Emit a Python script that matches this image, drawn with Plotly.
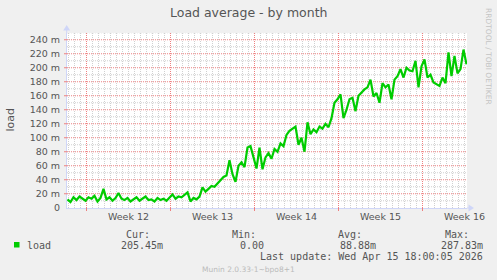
import plotly.graph_objects as go
from datetime import datetime, timedelta

# ---------------- data ----------------
series_name = "load"
start_time = datetime(2026, 3, 14, 10, 0)
step_hours = 6
load_milli = [
    12, 8, 15, 11, 16, 13, 10, 15, 13, 17,
    9, 14, 27, 12, 15, 10, 14, 21, 13, 11,
    14, 9, 12, 15, 10, 13, 16, 11, 12, 9,
    14, 11, 13, 10, 15, 19, 13, 16, 15, 18,
    22, 9, 14, 12, 16, 29, 23, 27, 31, 30,
    35, 40, 44, 46, 68, 48, 37, 60, 65, 58,
    86, 88, 70, 56, 86, 55, 72, 78, 70, 84,
    80, 92, 88, 104, 110, 113, 116, 90, 100, 80,
    122, 105, 112, 108, 116, 113, 120, 115, 128, 150,
    155, 162, 128, 140, 155, 157, 138, 160, 165, 169,
    172, 183, 159, 164, 150, 178, 172, 176, 155, 183,
    188, 198, 186, 200, 196, 195, 210, 172, 202, 212,
    186, 190, 179, 176, 174, 186, 178, 222, 188, 217,
    192, 198, 226, 205,
]
times = [start_time + timedelta(hours=step_hours * i) for i in range(len(load_milli))]

x_range = [datetime(2026, 3, 14, 9, 0), datetime(2026, 4, 16, 17, 0)]
week_starts = [datetime(2026, 3, 16) + timedelta(days=7 * i) for i in range(5)]
week_numbers = [12, 13, 14, 15, 16]
week_labels = ["Week %d" % n for n in week_numbers]
week_label_pos = [w + timedelta(hours=84) for w in week_starts]

y_tick_vals = list(range(0, 241, 20))
y_tick_text = ["0"] + ["%d m" % v for v in y_tick_vals[1:]]
y_range = [-0.357, 249.643]

legend_headers = ["Cur:", "Min:", "Avg:", "Max:"]
legend_values = ["205.45m", "0.00", "88.88m", "287.83m"]
last_update = "Last update: Wed Apr 15 18:00:05 2026"
title_text = "Load average - by month"
y_title = "load"
side_text = "RRDTOOL / TOBI OETIKER"
footer = "Munin 2.0.33-1~bpo8+1"

# ---------------- layout geometry ----------------
W, H = 497, 280
L, R, T, B = 67, 30, 33, 72
PW, PH = W - L - R, H - T - B


def px(xp):
    return (xp - L) / PW


def py(yp):
    return 1 - (yp - T) / PH


GREEN = "#00CC00"
AXIS = "#CFD6F8"
MGRID = "#EE8080"
GRID = "#D0D0D0"
FONTC = "#555555"
SANS = "DejaVu Sans"
MONO = "DejaVu Sans Mono"

fig = go.Figure()
fig.add_trace(go.Scatter(
    x=times, y=load_milli, mode="lines", name=series_name,
    line=dict(color=GREEN, width=2.2), hoverinfo="skip", showlegend=False,
))

# minor grid positions (every 12 h / every 10 m, skipping major positions)
minor_times = []
t = datetime(2026, 3, 14, 12, 0)
while t < x_range[1]:
    if t not in week_starts:
        minor_times.append(t)
    t += timedelta(hours=12)
minor_vals = [v for v in range(10, 251, 10) if v not in y_tick_vals]

shapes = []
for mt in minor_times:
    shapes.append(dict(type="line", xref="x", yref="paper", x0=mt, x1=mt,
                       y0=0, y1=1, layer="below",
                       line=dict(color=GRID, width=1, dash="1px,1px")))
for mv in minor_vals:
    shapes.append(dict(type="line", xref="paper", yref="y", x0=0, x1=1,
                       y0=mv, y1=mv, layer="below",
                       line=dict(color=GRID, width=1, dash="1px,1px")))
# week grid lines (major, red dotted)
for ws in week_starts:
    shapes.append(dict(type="line", xref="x", yref="paper", x0=ws, x1=ws,
                       y0=0, y1=1, layer="below",
                       line=dict(color=MGRID, width=1, dash="1px,1px")))
    shapes.append(dict(type="line", xref="x", yref="paper", x0=ws, x1=ws,
                       y0=-3 / PH, y1=0, layer="above",
                       line=dict(color=MGRID, width=1)))
# value grid lines (major, red dotted)
for yv in y_tick_vals[1:]:
    shapes.append(dict(type="line", xref="paper", yref="y", x0=0, x1=1,
                       y0=yv, y1=yv, layer="below",
                       line=dict(color=MGRID, width=1, dash="1px,1px")))
    shapes.append(dict(type="line", xref="paper", yref="y", x0=-3 / PW, x1=0,
                       y0=yv, y1=yv, layer="above",
                       line=dict(color=MGRID, width=1)))
# axis arrows
shapes.append(dict(type="path", xref="paper", yref="paper",
                   path="M %f %f L %f %f L %f %f Z" % (px(63.2), py(30.5), px(66.7), py(25.0), px(70.2), py(30.5)),
                   fillcolor=AXIS, line=dict(width=0)))
shapes.append(dict(type="line", xref="paper", yref="paper", x0=px(66.7), x1=px(66.7),
                   y0=py(33), y1=py(29), line=dict(color=AXIS, width=1)))
shapes.append(dict(type="path", xref="paper", yref="paper",
                   path="M %f %f L %f %f L %f %f Z" % (px(468.5), py(204.5), px(474), py(208), px(468.5), py(211.5)),
                   fillcolor=AXIS, line=dict(width=0)))
shapes.append(dict(type="line", xref="paper", yref="paper", x0=px(467), x1=px(469),
                   y0=py(208), y1=py(208), line=dict(color=AXIS, width=1)))
# legend colour box
shapes.append(dict(type="rect", xref="paper", yref="paper",
                   x0=px(14), x1=px(19.5), y0=py(242), y1=py(247.5),
                   fillcolor=GREEN, line=dict(width=0)))

ann = []


def text(x, y, s, size, color=FONTC, family=SANS, xanchor="left", angle=0):
    ann.append(dict(x=px(x), y=py(y), xref="paper", yref="paper", text=s,
                    showarrow=False, xanchor=xanchor, yanchor="middle",
                    textangle=angle, borderpad=0,
                    font=dict(family=family, size=size, color=color)))


text(248.5, 13, title_text, 12.5, xanchor="center")
text(9.5, 120, y_title, 11, xanchor="center", angle=-90)
text(488.5, 56.5, side_text, 7.5, color="#C4C4C4", xanchor="center", angle=90)
text(26, 245, series_name, 10, family=MONO)
hdr_right = [150.5, 257, 363, 469.5]
val_right = [163.5, 264.5, 376.5, 483.5]
for h, xr in zip(legend_headers, hdr_right):
    text(xr, 234, h, 10, family=MONO, xanchor="right")
for v, xr in zip(legend_values, val_right):
    text(xr, 245, v, 10, family=MONO, xanchor="right")
text(483.5, 256.5, last_update, 10, family=MONO, xanchor="right")
text(248.5, 269, footer, 7.5, color="#BBBBBB", xanchor="center")

fig.update_layout(
    width=W, height=H,
    margin=dict(l=L, r=R, t=T, b=B, pad=0),
    paper_bgcolor="#F0F0F0", plot_bgcolor="#FFFFFF",
    shapes=shapes, annotations=ann, showlegend=False,
    xaxis=dict(
        type="date", range=x_range, fixedrange=True,
        tickmode="array", tickvals=week_label_pos, ticktext=week_labels,
        ticks="", showgrid=False, zeroline=False,
        showline=True, linecolor=AXIS, linewidth=1,
        tickfont=dict(family=SANS, size=9.5, color=FONTC),
    ),
    yaxis=dict(
        range=y_range, fixedrange=True,
        tickmode="array", tickvals=y_tick_vals, ticktext=y_tick_text,
        ticks="", showgrid=False, ticklabelstandoff=4,
        zeroline=False, showline=True, linecolor=AXIS, linewidth=1,
        tickfont=dict(family=SANS, size=9.5, color=FONTC),
    ),
)

fig.write_html("out.html", config={"displayModeBar": False})
